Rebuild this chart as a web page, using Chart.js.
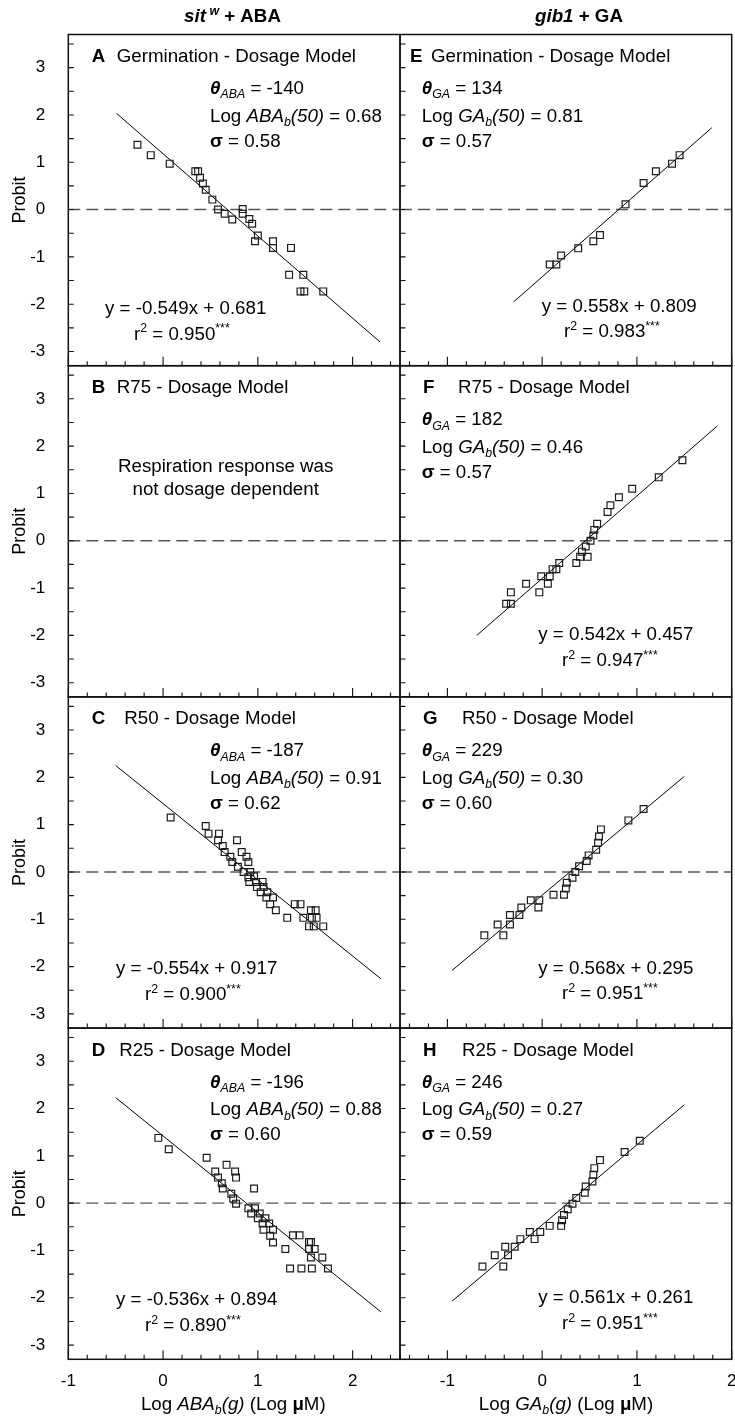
<!DOCTYPE html>
<html>
<head>
<meta charset="utf-8">
<title>Dosage model probit plots</title>
<script src="https://cdn.jsdelivr.net/npm/chart.js@4.4.1/dist/chart.umd.min.js"></script>
<style>
  html, body { margin: 0; padding: 0; background: #fff; }
  #fig { position: relative; width: 735px; height: 1418px; overflow: hidden; background: #fff; }
  #fig canvas { position: absolute; }
</style>
</head>
<body>
<div id="fig"></div>
<script>
// ---- values: x = log hormone (log uM), y = probit ----
const abaGermX = [-0.27,-0.13,0.07,0.34,0.37,0.39,0.42,0.45,0.52,0.58,0.65,0.73,0.84,0.84,0.91,0.94,0.97,1.00,1.16,1.16,1.35,1.33,1.48,1.45,1.49,1.69];
const abaGermY = [1.37,1.15,0.97,0.81,0.81,0.67,0.55,0.42,0.21,0.00,-0.09,-0.21,0.01,-0.09,-0.20,-0.30,-0.67,-0.55,-0.67,-0.81,-0.81,-1.38,-1.38,-1.73,-1.73,-1.73];
const abaGermFitX = [-0.49, 2.29];
const abaGermFitY = [2.03, -2.80];

const abaR50X = [0.08,0.45,0.48,0.59,0.58,0.78,0.63,0.65,0.83,0.71,0.88,0.73,0.90,0.79,0.85,0.92,0.90,0.96,0.91,0.98,1.05,0.99,1.06,1.03,1.10,1.09,1.16,1.13,1.19,1.31,1.39,1.45,1.48,1.56,1.61,1.57,1.62,1.54,1.59,1.69];
const abaR50Y = [1.15,0.97,0.81,0.81,0.67,0.67,0.55,0.42,0.42,0.32,0.32,0.21,0.21,0.11,0.00,0.00,-0.11,-0.09,-0.21,-0.21,-0.21,-0.32,-0.32,-0.43,-0.43,-0.54,-0.54,-0.68,-0.81,-0.97,-0.68,-0.68,-0.97,-0.81,-0.81,-0.97,-0.97,-1.15,-1.15,-1.15];
const abaR50FitX = [-0.5, 2.3];
const abaR50FitY = [2.25, -2.26];

const abaR25X = [-0.05,0.06,0.46,0.67,0.76,0.77,0.55,0.58,0.62,0.63,0.96,0.72,0.74,0.77,0.90,0.97,0.93,1.02,1.00,1.08,1.05,1.12,1.06,1.16,1.13,1.16,1.29,1.37,1.44,1.54,1.56,1.60,1.54,1.56,1.68,1.34,1.46,1.57,1.74];
const abaR25Y = [1.38,1.14,0.96,0.81,0.67,0.54,0.67,0.54,0.42,0.31,0.31,0.20,0.10,-0.01,-0.11,-0.11,-0.22,-0.22,-0.32,-0.32,-0.43,-0.43,-0.56,-0.56,-0.69,-0.83,-0.97,-0.68,-0.68,-0.82,-0.82,-0.97,-0.97,-1.15,-1.15,-1.38,-1.38,-1.38,-1.38];
const abaR25FitX = [-0.5, 2.3];
const abaR25FitY = [2.23, -2.30];

const gaGermX = [0.08,0.15,0.20,0.38,0.54,0.61,0.88,1.07,1.20,1.37,1.45];
const gaGermY = [-1.16,-1.16,-0.97,-0.82,-0.67,-0.54,0.11,0.56,0.81,0.97,1.15];
const gaGermFitX = [-0.30, 1.79];
const gaGermFitY = [-1.95, 1.73];

const gaR75X = [-0.38,-0.33,-0.33,-0.17,-0.03,-0.01,0.06,0.08,0.11,0.15,0.18,0.36,0.40,0.48,0.42,0.46,0.51,0.54,0.55,0.58,0.69,0.72,0.81,0.95,1.23,1.48];
const gaR75Y = [-1.33,-1.33,-1.09,-0.91,-1.09,-0.75,-0.91,-0.75,-0.60,-0.60,-0.47,-0.47,-0.34,-0.34,-0.23,-0.12,0.00,0.11,0.23,0.36,0.61,0.75,0.92,1.10,1.34,1.70];
const gaR75FitX = [-0.69, 1.85];
const gaR75FitY = [-2.00, 2.43];

const gaR50X = [-0.61,-0.41,-0.47,-0.34,-0.34,-0.24,-0.22,-0.04,-0.12,-0.03,0.12,0.23,0.25,0.26,0.32,0.35,0.39,0.47,0.49,0.57,0.59,0.60,0.62,0.91,1.07];
const gaR50Y = [-1.34,-1.34,-1.11,-1.11,-0.91,-0.91,-0.75,-0.75,-0.60,-0.60,-0.48,-0.48,-0.35,-0.23,-0.12,0.00,0.12,0.23,0.35,0.47,0.62,0.75,0.90,1.09,1.33];
const gaR50FitX = [-0.95, 1.50];
const gaR50FitY = [-2.08, 2.02];

const gaR25X = [-0.63,-0.41,-0.50,-0.36,-0.39,-0.29,-0.23,-0.08,-0.13,-0.02,0.08,0.20,0.21,0.23,0.27,0.32,0.36,0.45,0.46,0.53,0.54,0.55,0.61,0.87,1.03];
const gaR25Y = [-1.34,-1.34,-1.10,-1.10,-0.92,-0.92,-0.76,-0.76,-0.61,-0.61,-0.48,-0.48,-0.36,-0.25,-0.13,-0.01,0.11,0.22,0.35,0.46,0.60,0.74,0.91,1.08,1.32];
const gaR25FitX = [-0.95, 1.50];
const gaR25FitY = [-2.07, 2.08];

// panel order: A B C D (sit^w + ABA), E F G H (gib1 + GA)
const panelKeys = ['A', 'B', 'C', 'D', 'E', 'F', 'G', 'H'];
const panelTitles = ['Germination - Dosage Model', 'R75 - Dosage Model', 'R50 - Dosage Model', 'R25 - Dosage Model',
                     'Germination - Dosage Model', 'R75 - Dosage Model', 'R50 - Dosage Model', 'R25 - Dosage Model'];
const thetaVals = ['-140', null, '-187', '-196', '134', '182', '229', '246'];
const logB50Vals = ['0.68', null, '0.91', '0.88', '0.81', '0.46', '0.30', '0.27'];
const sigmaVals = ['0.58', null, '0.62', '0.60', '0.57', '0.57', '0.60', '0.59'];
const eqTexts = ['y = -0.549x + 0.681', null, 'y = -0.554x + 0.917', 'y = -0.536x + 0.894',
                 'y = 0.558x + 0.809', 'y = 0.542x + 0.457', 'y = 0.568x + 0.295', 'y = 0.561x + 0.261'];
const r2Vals = ['0.950', null, '0.900', '0.890', '0.983', '0.947', '0.951', '0.951'];
const noteLines = ['Respiration response was', 'not dosage dependent'];

const pointsX = [abaGermX, null, abaR50X, abaR25X, gaGermX, gaR75X, gaR50X, gaR25X];
const pointsY = [abaGermY, null, abaR50Y, abaR25Y, gaGermY, gaR75Y, gaR50Y, gaR25Y];
const fitsX = [abaGermFitX, null, abaR50FitX, abaR25FitX, gaGermFitX, gaR75FitX, gaR50FitX, gaR25FitX];
const fitsY = [abaGermFitY, null, abaR50FitY, abaR25FitY, gaGermFitY, gaR75FitY, gaR50FitY, gaR25FitY];

const xRangeAba = [-1, 2.5];
const xRangeGa = [-1.5, 2];
const yRange = [-3.3, 3.7];
const xTicksAba = [-1, 0, 1, 2];
const xTicksGa = [-1, 0, 1, 2];
const yTicks = [-3, -2, -1, 0, 1, 2, 3];
const zeroLevel = 0;

// ---- layout ----
const FAMILY = '"Liberation Sans", Arial, Helvetica, sans-serif';
const TXT = 18;
const SX = 1.04;
const PANEL_TOP = 34.5, PANEL_H = 331.2;
const COLS = [
  { left: 68.3, right: 400, cLeft: 0, cRight: 404, xRange: xRangeAba, xTicks: xTicksAba, hormone: 'ABA' },
  { left: 400, right: 731.7, cLeft: 396, cRight: 735, xRange: xRangeGa, xTicks: xTicksGa, hormone: 'GA' }
];
// text offsets relative to each plot box
const textPos = {
  A: { letterX: 23.4, titleX: 48.4, statX: 141.7, eqX: 36.7, eqY: 279.5, r2X: 65.7, r2Y: 305 },
  B: { letterX: 23.4, titleX: 48.4 },
  C: { letterX: 23.4, titleX: 56, statX: 141.7, eqX: 47.7, eqY: 277, r2X: 76.7, r2Y: 303 },
  D: { letterX: 23.4, titleX: 51, statX: 141.7, eqX: 47.7, eqY: 277, r2X: 76.7, r2Y: 303 },
  E: { letterX: 10, titleX: 31, statX: 21.7, eqX: 141.7, eqY: 277.2, r2X: 164, r2Y: 302.2 },
  F: { letterX: 23, titleX: 58, statX: 21.7, eqX: 138.3, eqY: 274.3, r2X: 162, r2Y: 300 },
  G: { letterX: 23, titleX: 62, statX: 21.7, eqX: 138.3, eqY: 276.7, r2X: 162, r2Y: 302 },
  H: { letterX: 23, titleX: 62, statX: 21.7, eqX: 138.3, eqY: 275.3, r2X: 162, r2Y: 301 }
};

function seg(t, o) { return Object.assign({ t: t }, o || {}); }

function fontFor(s, size) {
  const sz = (s.sub || s.sup) ? size * 0.66 : size;
  return (s.i ? 'italic ' : '') + (s.b ? 'bold ' : '') + sz.toFixed(1) + 'px ' + FAMILY;
}

// draws a run of mixed-style text (italic, bold, sub/superscript)
function drawRich(ctx, segs, x, y, opt) {
  opt = opt || {};
  const size = opt.size || TXT;
  const sx = opt.sx || SX;
  ctx.save();
  const widths = segs.map(s => { ctx.font = fontFor(s, size); return ctx.measureText(s.t).width; });
  const total = widths.reduce((p, w) => p + w, 0);
  ctx.translate(x, y);
  if (opt.rotate) ctx.rotate(opt.rotate);
  ctx.scale(sx, 1);
  let cx = opt.align === 'center' ? -total / 2 : 0;
  ctx.fillStyle = '#000';
  ctx.textAlign = 'left';
  ctx.textBaseline = 'alphabetic';
  segs.forEach((s, k) => {
    ctx.font = fontFor(s, size);
    const dy = s.sub ? size * 0.24 : (s.sup ? -size * 0.4 : 0);
    ctx.fillText(s.t, cx, dy);
    cx += widths[k];
  });
  ctx.restore();
}

function decorPlugin(i, geo) {
  return {
    id: 'decor' + i,
    afterDatasetsDraw(chart) {
      const ctx = chart.ctx, a = chart.chartArea;
      const xs = chart.scales.x, ys = chart.scales.y;
      ctx.save();
      ctx.strokeStyle = '#111';
      ctx.lineWidth = 1.1;
      ctx.beginPath();
      const x0 = geo.col.xRange[0], x1 = geo.col.xRange[1];
      for (let k = Math.ceil(x0 * 5 - 1e-6); k <= Math.floor(x1 * 5 + 1e-6); k++) {
        const px = xs.getPixelForValue(k / 5);
        const len = k % 5 === 0 ? 9 : 4.5;
        ctx.moveTo(px, a.bottom);
        ctx.lineTo(px, a.bottom - len);
      }
      for (let k = -6; k <= 7; k++) {
        const py = ys.getPixelForValue(k / 2);
        if (py < a.top + 1 || py > a.bottom - 1) continue;
        ctx.moveTo(a.left, py);
        ctx.lineTo(a.left + 5.5, py);
      }
      ctx.stroke();
      ctx.lineWidth = 1.5;
      ctx.strokeRect(a.left, a.top, a.right - a.left, a.bottom - a.top);
      ctx.restore();

      const key = panelKeys[i];
      const tp = textPos[key];
      const h = geo.col.hormone;
      drawRich(ctx, [seg(key, { b: 1 })], a.left + tp.letterX, a.top + 27.5);
      drawRich(ctx, [seg(panelTitles[i])], a.left + tp.titleX, a.top + 27.5);
      if (thetaVals[i] !== null) {
        drawRich(ctx, [seg('\u03B8', { b: 1, i: 1 }), seg(h, { i: 1, sub: 1 }), seg(' = ' + thetaVals[i])],
          a.left + tp.statX, a.top + 59.5);
        drawRich(ctx, [seg('Log '), seg(h, { i: 1 }), seg('b', { i: 1, sub: 1 }), seg('(50)', { i: 1 }), seg(' = ' + logB50Vals[i])],
          a.left + tp.statX, a.top + 87.2);
        drawRich(ctx, [seg('\u03C3', { b: 1 }), seg(' = ' + sigmaVals[i])], a.left + tp.statX, a.top + 112.2);
        drawRich(ctx, [seg(eqTexts[i])], a.left + tp.eqX, a.top + tp.eqY);
        drawRich(ctx, [seg('r'), seg('2', { sup: 1 }), seg(' = ' + r2Vals[i]), seg('***', { sup: 1 })],
          a.left + tp.r2X, a.top + tp.r2Y);
      } else {
        drawRich(ctx, [seg(noteLines[0])], a.left + 157.4, a.top + 106, { align: 'center' });
        drawRich(ctx, [seg(noteLines[1])], a.left + 157.4, a.top + 129.3, { align: 'center' });
      }

      const offX = geo.col.cLeft, offY = geo.cTop;
      if (geo.colIdx === 0) {
        drawRich(ctx, [seg('Probit')], 25 - offX, (geo.top + geo.bottom) / 2 - offY,
          { align: 'center', rotate: -Math.PI / 2, sx: 1 });
      }
      if (geo.row === 0) {
        const t = geo.colIdx === 0
          ? [seg('sit', { b: 1, i: 1 }), seg(' w', { b: 1, i: 1, sup: 1 }), seg(' + ABA', { b: 1 })]
          : [seg('gib1', { b: 1, i: 1 }), seg(' + GA', { b: 1 })];
        drawRich(ctx, t, (geo.colIdx === 0 ? 232.5 : 579) - offX, 22 - offY, { align: 'center' });
      }
      if (geo.row === 3) {
        const t = [seg('Log '), seg(h, { i: 1 }), seg('b', { i: 1, sub: 1 }), seg('(g)', { i: 1 }),
                   seg(' (Log '), seg('\u03BC', { b: 1 }), seg('M)')];
        drawRich(ctx, t, (geo.colIdx === 0 ? 233.3 : 566) - offX, 1410 - offY, { align: 'center' });
      }
    }
  };
}

const fig = document.getElementById('fig');
const tickFont = { family: FAMILY, size: 17 };

function buildPanel(i) {
  const colIdx = i < 4 ? 0 : 1;
  const row = i % 4;
  const col = COLS[colIdx];
  const top = PANEL_TOP + row * PANEL_H;
  const bottom = top + PANEL_H;
  const cTop = row === 0 ? 0 : Math.floor(top) - 4;
  const cBottom = row === 3 ? 1418 : Math.ceil(bottom) + 4;
  const w = col.cRight - col.cLeft, hgt = cBottom - cTop;

  const canvas = document.createElement('canvas');
  canvas.width = w; canvas.height = hgt;
  canvas.style.left = col.cLeft + 'px';
  canvas.style.top = cTop + 'px';
  canvas.style.width = w + 'px';
  canvas.style.height = hgt + 'px';
  fig.appendChild(canvas);

  const datasets = [];
  if (pointsX[i]) {
    datasets.push({
      data: pointsX[i].map((v, k) => ({ x: v, y: pointsY[i][k] })),
      pointStyle: 'rect', pointRadius: 4.8, pointBorderWidth: 1.2,
      borderColor: '#1c1c1c', backgroundColor: 'rgba(0,0,0,0)', showLine: false, order: 0
    });
    datasets.push({
      data: fitsX[i].map((v, k) => ({ x: v, y: fitsY[i][k] })),
      showLine: true, borderColor: '#000', borderWidth: 1, pointRadius: 0, order: 1
    });
  }
  datasets.push({
    data: [{ x: col.xRange[0], y: zeroLevel }, { x: col.xRange[1], y: zeroLevel }],
    showLine: true, borderColor: '#555', borderWidth: 1.4, borderDash: [12, 6], pointRadius: 0, order: 2
  });

  const geo = { col, colIdx, row, top, bottom, cTop };
  new Chart(canvas, {
    type: 'scatter',
    data: { datasets },
    options: {
      responsive: false,
      animation: false,
      devicePixelRatio: 1,
      events: [],
      layout: { autoPadding: false, padding: { left: 0, right: w - (col.right - col.cLeft), top: top - cTop, bottom: 0 } },
      plugins: { legend: { display: false }, tooltip: { enabled: false } },
      scales: {
        x: {
          type: 'linear', position: 'bottom', min: col.xRange[0], max: col.xRange[1],
          grid: { display: false }, border: { display: false },
          ticks: { display: row === 3, padding: 3.5, font: tickFont, color: '#000', autoSkip: false,
                   callback: v => String(v) },
          afterBuildTicks: s => { s.ticks = col.xTicks.map(v => ({ value: v })); },
          afterFit: s => { s.height = cBottom - bottom; s.paddingLeft = 0; s.paddingRight = 0; }
        },
        y: {
          type: 'linear', position: 'left', min: yRange[0], max: yRange[1],
          grid: { display: false }, border: { display: false },
          ticks: { display: colIdx === 0, padding: 15, font: tickFont, color: '#000', autoSkip: false,
                   callback: v => String(v) },
          afterBuildTicks: s => { s.ticks = yTicks.map(v => ({ value: v })); },
          afterFit: s => { s.width = col.left - col.cLeft; s.paddingTop = 0; s.paddingBottom = 0; }
        }
      }
    },
    plugins: [decorPlugin(i, geo)]
  });
}

for (let i = 0; i < 8; i++) buildPanel(i);
</script>
</body>
</html>
